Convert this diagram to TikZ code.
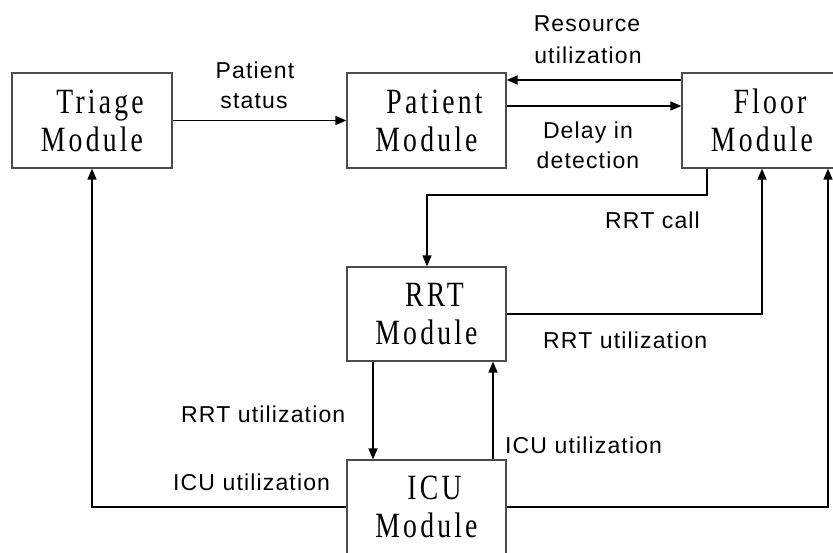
\documentclass[tikz,border=0pt]{standalone}
\usepackage{fontspec}
\usetikzlibrary{arrows.meta}
\newfontfamily\boxfont[FakeStretch=0.78,LetterSpace=9]{Liberation Serif}
\newfontfamily\lblfont[LetterSpace=5]{Liberation Sans}

\begin{document}
\begin{tikzpicture}[x=1pt,y=-1pt,
  module/.style={draw=black!70,line width=1.2pt,rectangle,
    minimum width=160pt,minimum height=95pt,inner sep=0pt,align=center,
    font=\boxfont\fontsize{35.5}{38}\selectfont},
  flow/.style={line width=1.5pt,-{Triangle[length=11pt,width=9pt]}},
  lbl/.style={font=\lblfont\fontsize{23}{30}\selectfont,inner sep=0pt}]

\path[use as bounding box] (0,0) rectangle (833,552);
\clip (0,0) rectangle (833,552);

% modules
\node[module] (triage)  at (92,120.5)  {\hspace*{16pt}Triage\\Module};
\node[module,minimum width=159pt] (patient) at (426.5,120.5) {\hspace*{16pt}Patient\\Module};
\node[module] (floor)   at (762,120.5) {\hspace*{16pt}Floor\\Module};
\node[module,minimum width=159pt,minimum height=94pt] (rrt) at (426.5,314) {\hspace*{16pt}RRT\\Module};
\node[module,minimum width=159pt,minimum height=94pt] (icu) at (426.5,507) {\hspace*{16pt}ICU\\Module};

% flows between modules
\draw[flow] (triage) -- (patient);
\draw[flow] (floor.west |- 0,80) -- (patient.east |- 0,80);
\draw[flow] (patient.east |- 0,106) -- (floor.west |- 0,106);
\draw[flow] (floor.south -| 707,0) -- (707,195) -- (427,195) -- (rrt.north -| 427,0);
\draw[flow] (rrt.east) -| (floor.south -| 762,0);
\draw[flow] (rrt.south -| 373,0) -- (icu.north -| 373,0);
\draw[flow] (icu.north -| 493,0) -- (rrt.south -| 493,0);
\draw[flow] (icu.west) -| (triage.south);
\draw[flow] (icu.east) -| (floor.south -| 828,0);

% flow labels
\node[lbl,anchor=base] (ps1) at (255,78)  {Patient};
\node[lbl,anchor=base] (ps2) at (254,108) {status};
\node[lbl,anchor=base] (ru1) at (587,31)  {Resource};
\node[lbl,anchor=base] (ru2) at (588,63)  {utilization};
\node[lbl,anchor=base] (dd1) at (588,138) {Delay in};
\node[lbl,anchor=base] (dd2) at (588,168) {detection};
\node[lbl,anchor=base west] (call) at (605,228) {RRT call};
\node[lbl,anchor=base west] (rru1) at (543,348) {RRT utilization};
\node[lbl,anchor=base west] (rru2) at (181,422) {RRT utilization};
\node[lbl,anchor=base west] (icu1) at (505,453) {ICU utilization};
\node[lbl,anchor=base west] (icu2) at (173,490) {ICU utilization};
\end{tikzpicture}
\end{document}
